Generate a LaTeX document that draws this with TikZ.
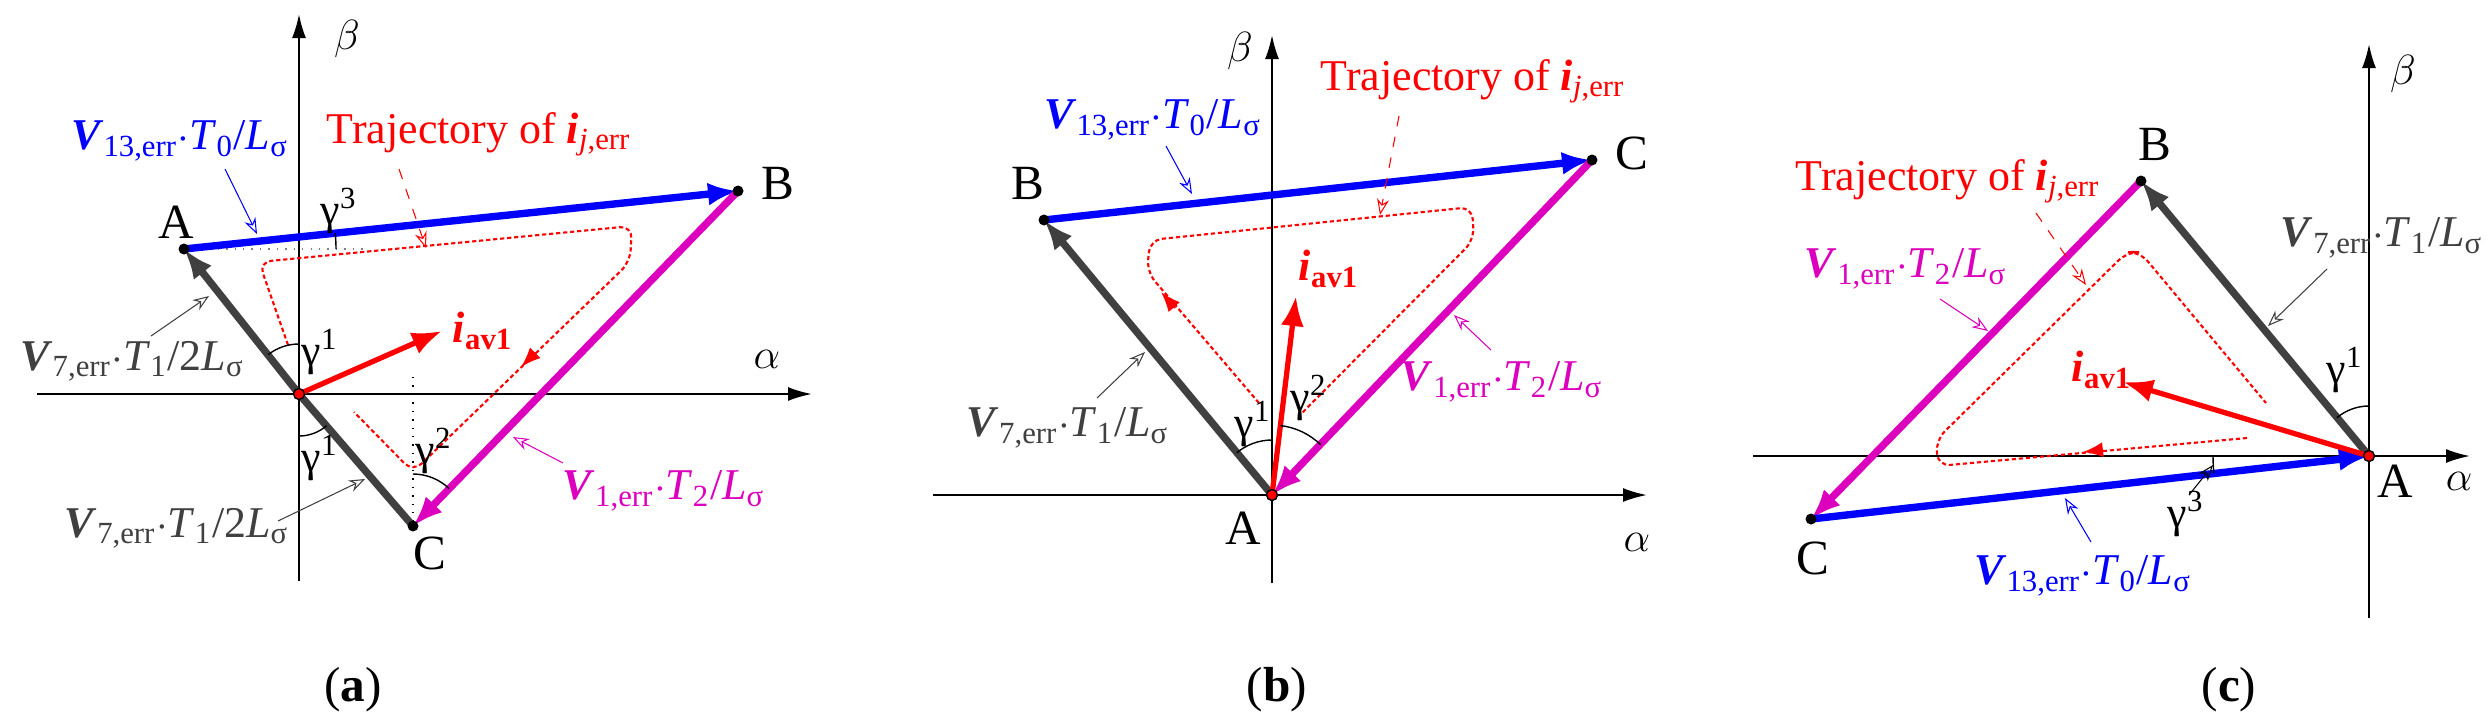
\documentclass[tikz,border=0pt]{standalone}
\usepackage{fontspec}
\setmainfont{Liberation Serif}
\usepackage{tikz}
\usetikzlibrary{calc,arrows.meta}

\definecolor{vmag}{RGB}{220,0,190}
\definecolor{vgray}{RGB}{64,64,64}
\definecolor{vblue}{RGB}{0,0,255}

\newcommand{\verr}[3]{\textbf{\textit{V}}\textsubscript{#1,err}$\cdot$\textit{T}\textsubscript{#2}/#3\textit{L}\textsubscript{σ}}
\newcommand{\iav}{\textbf{\textit{i}}\textsubscript{\textbf{av1}}}
\newcommand{\traj}{Trajectory of \textbf{\textit{i}}\textsubscript{\textit{j},err}}

\begin{document}
\begin{tikzpicture}[x=0.1mm,y=-0.1mm,
    font=\fontsize{12.5}{14}\selectfont,
    axis/.style={-{Latex[length=2.4mm,width=1.4mm]}, line width=0.6pt},
    vec/.style={-{Latex[length=3mm,width=2.3mm]}, line width=2.1pt},
    seg/.style={line width=2.1pt},
    pointer/.style={-{Stealth[length=1.6mm,width=1.2mm,open]}, line width=0.3pt},
    traj/.style={red, dash pattern=on 1.2pt off 0.8pt, line width=0.6pt, rounded corners=1.2mm},
    trajtip/.style={red, -{Latex[length=2mm,width=1.5mm]}, line width=0.6pt},
    ang/.style={line width=0.4pt},
    pt/.style={fill=black, circle, inner sep=0pt, minimum size=1.1mm},
    origin/.style={fill=red, draw=black, circle, inner sep=0pt, minimum size=1.1mm, line width=0.4pt},
    lbl/.style={font=\fontsize{14}{16}\selectfont, inner sep=0pt}]
\useasboundingbox (0,0) rectangle (2488,723);

% ---------- (a)
\coordinate (a_xl) at (37,394);
\coordinate (a_xr) at (812,394);
\coordinate (a_yb) at (299,581);
\coordinate (a_yt) at (299,14);
\draw[axis] (a_xl) -- (a_xr);
\draw[axis] (a_yb) -- (a_yt);
\node at (347,39) {$\beta$};
\node at (767,359) {$\alpha$};

\coordinate (a_O) at (299,394);
\coordinate (a_A) at (184,249);
\coordinate (a_B) at (738,191);
\coordinate (a_C) at (413,526);
\coordinate (a_ref) at (365,249);
\coordinate (a_up) at (413,377);

\draw[gray, dotted, line width=0.4pt] (a_A) -- (a_ref);
\draw[black, dotted, line width=0.4pt] (a_up) -- (a_C);

\draw[traj] (288,345) -- (259,262) -- (632,226) -- (630,262) -- (413,472) -- (354,412);
\draw[trajtip] (535,353) -- (521,367);

\draw[vec, vblue] (a_A) -- (a_B);
\draw[vec, vgray] (a_O) -- (a_A);
\draw[seg, vgray] (a_O) -- (a_C);
\draw[vec, vmag] (a_B) -- (a_C);
\draw[vec, red, line width=1.5pt] (a_O) -- (442,331) coordinate (a_i);

\draw[ang] (a_O) ++(-90:50) arc[start angle=-90, end angle=-128, radius=50];
\draw[ang] (a_O) ++(49:42) arc[start angle=49, end angle=90, radius=42];
\draw[ang] (a_A) ++(0:152) arc[start angle=0, end angle=-6, radius=152];
\draw[ang] (a_C) ++(-90:52) arc[start angle=-90, end angle=-46, radius=52];

\node[pt] (a_pA) at (a_A) {};
\node[pt] (a_pB) at (a_B) {};
\node[pt] (a_pC) at (a_C) {};
\node[origin] (a_pO) at (a_O) {};
\node[lbl] (a_lA) at (176,222) {A};
\node[lbl] (a_lB) at (778,183) {B};
\node[lbl] (a_lC) at (430,553) {C};

\node at (320,352) {γ\textsuperscript{1}};
\node at (320,458) {γ\textsuperscript{1}};
\node at (339,211) {γ\textsuperscript{3}};
\node at (434,451) {γ\textsuperscript{2}};

\node[red] (a_li) at (483,331) {\iav};
\node[red] (a_lt) at (479,134) {\traj};
\node[vblue] (a_l13) at (180,141) {\verr{13}{0}{}};
\node[vgray, anchor=west] (a_l7a) at (8,361) {\verr{7}{1}{2}};
\node[vgray] (a_l7b) at (177,528) {\verr{7}{1}{2}};
\node[vmag] (a_l1) at (664,491) {\verr{1}{2}{}};

\coordinate (a_p13) at (257,234);
\coordinate (a_pt) at (426,248);
\coordinate (a_p7a) at (209,296);
\coordinate (a_p7b) at (365,479);
\coordinate (a_p1) at (513,437);
\draw[pointer, vblue] (225,169) -- (a_p13);
\draw[pointer, red, dashed] (399,169) -- (a_pt);
\draw[pointer, vgray] (151,336) -- (a_p7a);
\draw[pointer, vgray] (278,521) -- (a_p7b);
\draw[pointer, vmag] (563,463) -- (a_p1);

\node[lbl] (a_cap) at (353,690) {(\textbf{a})};

% ---------- (b)
\coordinate (b_xl) at (933,495);
\coordinate (b_xr) at (1647,495);
\coordinate (b_yb) at (1272,583);
\coordinate (b_yt) at (1272,35);
\draw[axis] (b_xl) -- (b_xr);
\draw[axis] (b_yb) -- (b_yt);
\node at (1240,51) {$\beta$};
\node at (1637,542) {$\alpha$};

\coordinate (b_A) at (1272,495);
\coordinate (b_B) at (1044,220);
\coordinate (b_C) at (1592,160);

\draw[traj] (1259,403) -- (1147,272) -- (1150,240) -- (1472,207) -- (1474,240) -- (1301,414);
\draw[trajtip] (1175,308) -- (1161,292);

\draw[vec, vgray] (b_A) -- (b_B);
\draw[vec, vblue] (b_B) -- (b_C);
\draw[vec, vmag] (b_C) -- (b_A);
\draw[vec, red, line width=1.5pt] (b_A) -- (1296,296) coordinate (b_i);

\draw[ang] (b_A) ++(-90:55) arc[start angle=-90, end angle=-130, radius=55];
\draw[ang] (b_A) ++(-83:70) arc[start angle=-83, end angle=-46, radius=70];

\node[pt] (b_pB) at (b_B) {};
\node[pt] (b_pC) at (b_C) {};
\node[origin] (b_pA) at (b_A) {};
\node[lbl] (b_lA) at (1243,528) {A};
\node[lbl] (b_lB) at (1028,183) {B};
\node[lbl] (b_lC) at (1632,153) {C};

\node at (1253,424) {γ\textsuperscript{1}};
\node at (1309,398) {γ\textsuperscript{2}};

\node[red] (b_li) at (1329,269) {\iav};
\node[red] (b_lt) at (1473,81) {\traj};
\node[vblue] (b_l13) at (1153,120) {\verr{13}{0}{}};
\node[vgray] (b_l7) at (1068,428) {\verr{7}{1}{}};
\node[vmag] (b_l1) at (1502,382) {\verr{1}{2}{}};

\coordinate (b_p13) at (1192,194);
\coordinate (b_pt) at (1380,215);
\coordinate (b_p7) at (1145,352);
\coordinate (b_p1) at (1454,315);
\draw[pointer, vblue] (1166,146) -- (b_p13);
\draw[pointer, red, dashed] (1399,116) -- (b_pt);
\draw[pointer, vgray] (1097,398) -- (b_p7);
\draw[pointer, vmag] (1491,350) -- (b_p1);

\node[lbl] (b_cap) at (1277,690) {(\textbf{b})};

% ---------- (c)
\coordinate (c_xl) at (1753,456);
\coordinate (c_xr) at (2470,456);
\coordinate (c_yb) at (2369,618);
\coordinate (c_yt) at (2369,44);
\draw[axis] (c_xl) -- (c_xr);
\draw[axis] (c_yb) -- (c_yt);
\node at (2403,74) {$\beta$};
\node at (2459,481) {$\alpha$};

\coordinate (c_A) at (2369,456);
\coordinate (c_B) at (2141,181);
\coordinate (c_C) at (1811,519);

\draw[traj] (2247,438) -- (1938,466) -- (1936,440) -- (2127,252) -- (2140,252) -- (2266,403);
\draw[trajtip] (2100,450) -- (2083,452);

\draw[vec, vgray] (c_A) -- (c_B);
\draw[vec, vmag] (c_B) -- (c_C);
\draw[vec, vblue] (c_C) -- (c_A);
\draw[vec, red, line width=1.5pt] (c_A) -- (2123,382) coordinate (c_i);

\draw[ang] (c_A) ++(-90:50) arc[start angle=-90, end angle=-130, radius=50];
\draw[ang] (c_A) ++(180:156) arc[start angle=180, end angle=173.6, radius=156];

\node[pt] (c_pB) at (c_B) {};
\node[pt] (c_pC) at (c_C) {};
\node[origin] (c_pA) at (c_A) {};
\node[lbl] (c_lA) at (2395,481) {A};
\node[lbl] (c_lB) at (2155,144) {B};
\node[lbl] (c_lC) at (1813,558) {C};

\node at (2345,370) {γ\textsuperscript{1}};
\node (c_g3) at (2186,514) {γ\textsuperscript{3}};

\node[red] (c_li) at (2102,370) {\iav};
\node[red] (c_lt) at (1948,181) {\traj};
\node[vgray] (c_l7) at (2382,238) {\verr{7}{1}{}};
\node[vmag] (c_l1) at (1906,269) {\verr{1}{2}{}};
\node[vblue] (c_l13) at (2083,576) {\verr{13}{0}{}};

\coordinate (c_p7) at (2268,326);
\coordinate (c_p1) at (1988,331);
\coordinate (c_pt) at (2086,285);
\coordinate (c_p13) at (2065,498);
\coordinate (c_pg3) at (2213,465);
\draw[pointer, vgray] (2327,269) -- (c_p7);
\draw[pointer, vmag] (1940,299) -- (c_p1);
\draw[pointer, red, dashed] (2036,213) -- (c_pt);
\draw[pointer, vblue] (2091,542) -- (c_p13);
\draw[pointer, black] (2189,495) -- (c_pg3);

\node[lbl] (c_cap) at (2229,690) {(\textbf{c})};
\end{tikzpicture}
\end{document}
